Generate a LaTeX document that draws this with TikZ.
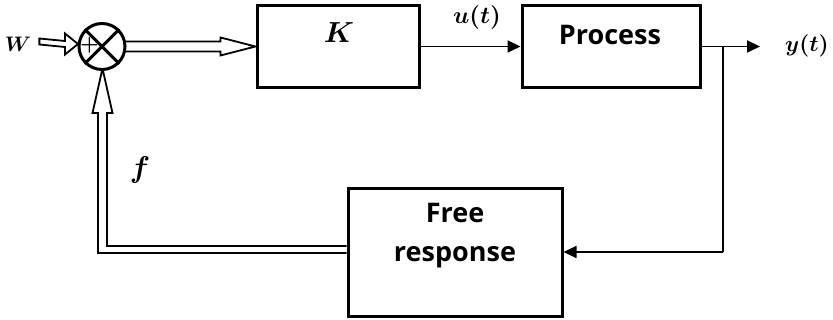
\documentclass[tikz,border=0pt]{standalone}
\usepackage{graphicx}
\usepackage{amsmath}
\usepackage{bm}
\usepackage{fontspec}
\setsansfont{Open Sans}
\usetikzlibrary{calc,arrows.meta}
\newcommand{\scaledmathlab}[2]{\scalebox{#1}{$\bm{#2}$}}
\begin{document}
\begin{tikzpicture}[x=1pt,y=-1pt,
  blk/.style={draw,line width=3pt,rectangle,inner sep=0pt},
  blktext/.style={font=\sffamily\bfseries\fontsize{27}{39}\selectfont,align=center,inner sep=0pt},
  mlab/.style={inner sep=0pt},
  hollow/.style={draw,line width=1.8pt,fill=white,line join=miter},
  thin/.style={draw,line width=1.8pt},
  tip/.style={-{Triangle[length=13pt,width=12pt]}}
]
\useasboundingbox (0,0) rectangle (833,320);
% blocks
\node[blk,minimum width=162pt,minimum height=82pt] (K) at (338,46.5) {};
\node[blk,minimum width=178pt,minimum height=82pt] (P) at (611,46.5) {};
\node[blk,minimum width=214pt,minimum height=128pt] (FR) at (455,253) {};
\node[mlab] (Kt) at (339,33) {\scaledmathlab{2.9}{K}};
\node[blktext] (Pt) at (610,35) {Process};
\node[blktext] (FRt) at (455,236) {Free\\response};
% labels
\node[mlab] (W) at (18,44) {\scaledmathlab{2.1}{W}};
\node[mlab] (u) at (477,18) {\scaledmathlab{2.4}{u(t)}};
\node[mlab] (y) at (807,46) {\scaledmathlab{2.25}{y(t)}};
\node[mlab] (f) at (140,170) {\scaledmathlab{3.0}{f}};
% coordinates
\coordinate (sumc) at (102,46.5);
\coordinate (yout) at (760,46.5);
\coordinate (br) at (723,46.5);
\coordinate (brd) at (723,252);
\coordinate (corner) at (102.5,249.5);
% hollow arrow from summer to K
\draw[hollow] ($(sumc)+(15,-5)$) -- ($(K.west)+(-35,-5)$) -- ($(K.west)+(-35,-9)$) -- (K.west)
  -- ($(K.west)+(-35,9)$) -- ($(K.west)+(-35,5)$) -- ($(sumc)+(15,5)$);
% hollow arrow W to summer
\draw[hollow] ($(W.east)+(8,-5.5)$) -- ($(sumc)+(-37,-5.5)$) -- ($(sumc)+(-37,-13)$) -- ($(sumc)+(-24,-2.5)$)
  -- ($(sumc)+(-37,8)$) -- ($(sumc)+(-37,0.5)$) -- ($(W.east)+(8,0.5)$) -- cycle;
% feedback double-line with hollow head
\draw[hollow] ($(FR.west|-corner)+(0,3.5)$) -- ($(corner)+(-4.5,3.5)$) -- ($(sumc)+(-4,66.5)$) -- ($(sumc)+(-9.5,66.5)$)
  -- ($(sumc)+(0.5,22)$) -- ($(sumc)+(10.5,66.5)$) -- ($(sumc)+(5,66.5)$) -- ($(corner)+(4.5,-3.5)$)
  -- ($(FR.west|-corner)+(0,-3.5)$);
% summing junction
\node[draw,circle,line width=3pt,fill=white,minimum size=46pt,inner sep=0pt] (sum) at (sumc) {};
\draw[line width=3pt] (sum.north west) -- (sum.south east) (sum.north east) -- (sum.south west);
\node[inner sep=0pt] (plus) at ($(sumc)+(-12.5,-1.5)$) {\scalebox{2.1}{$\bm{+}$}};
% thin signal lines
\draw[thin,tip] (K.east) -- (P.west);
\draw[thin,tip] (P.east) -- (yout);
\draw[thin] (br) -- (brd);
\draw[thin,tip] (brd) -- (FR.east|-brd);
\end{tikzpicture}
\end{document}
